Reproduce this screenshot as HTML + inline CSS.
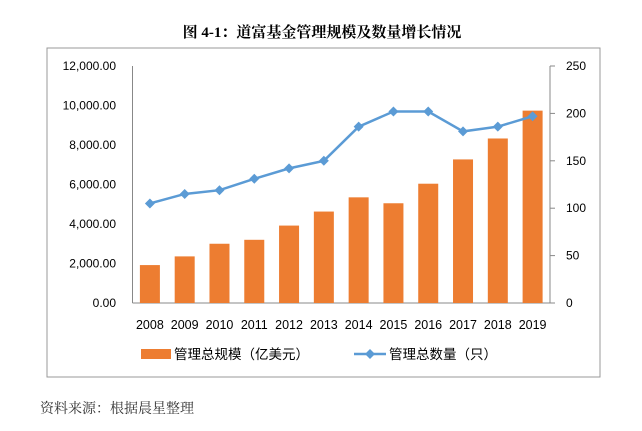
<!DOCTYPE html>
<html><head><meta charset="utf-8"><style>
body{margin:0;background:#fff;width:642px;height:426px;overflow:hidden}
svg text{font-family:"Liberation Sans","Noto Sans CJK SC",sans-serif}
</style></head><body>
<svg width="642" height="426">
<text x="322" y="37" text-anchor="middle" font-size="15" font-weight="bold" style="font-family:'Liberation Serif','Noto Serif CJK SC',serif">图 4-1：道富基金管理规模及数量增长情况</text>
<rect x="47" y="48" width="553" height="329" fill="none" stroke="#999" stroke-width="1"/>
<g id="plot"></g>
<text x="40" y="413" font-size="14" fill="#333" style="font-family:'Liberation Serif','Noto Serif CJK SC',serif">资料来源：根据晨星整理</text>
</svg>
<script>
const years=['2008','2009','2010','2011','2012','2013','2014','2015','2016','2017','2018','2019'];
const aum=[1920,2360,3000,3200,3920,4630,5350,5050,6040,7270,8330,9740];
const counts=[105,115,119,131,142,150,186,202,202,181,186,197];
const leftTicks=[0,2000,4000,6000,8000,10000,12000];
const rightTicks=[0,50,100,150,200,250];
const NS='http://www.w3.org/2000/svg';
const g=document.getElementById('plot');
const X0=132.5,X1=550,YT=66,YB=303;
const cw=(X1-X0)/years.length;
const yL=v=>YB-(v/12000)*(YB-YT);
const yR=v=>YB-(v/250)*(YB-YT);
const xc=i=>X0+cw*(i+0.5);
function mk(t,a){const e=document.createElementNS(NS,t);for(const k in a)e.setAttribute(k,a[k]);g.appendChild(e);return e;}
let ax=mk('line',{x1:X0,y1:YT,x2:X0,y2:YB,stroke:'#888'});


ax=mk('line',{x1:X0,y1:YB,x2:X1,y2:YB,stroke:'#888'});


ax=mk('line',{x1:X1,y1:YT,x2:X1,y2:YB,stroke:'#888'});


leftTicks.forEach(v=>{const t=mk('text',{x:116,y:yL(v)+4,'text-anchor':'end','font-size':12});t.textContent=v.toLocaleString('en-US',{minimumFractionDigits:2});

});
rightTicks.forEach(v=>{mk('line',{x1:X1,y1:yR(v),x2:X1+5,y2:yR(v),stroke:'#888'});const t=mk('text',{x:566,y:yR(v)+4,'font-size':12});t.textContent=v;

});
years.forEach((y,i)=>{const r=mk('rect',{x:xc(i)-10,y:yL(aum[i]),width:20,height:YB-yL(aum[i]),fill:'#ED7D31'});


const t=mk('text',{x:xc(i),y:329,'text-anchor':'middle','font-size':12.5});t.textContent=y;

});
const l=mk('polyline',{points:counts.map((v,i)=>xc(i)+','+yR(v)).join(' '),fill:'none',stroke:'#5B9BD5','stroke-width':2.5});


counts.forEach((v,i)=>{const d=mk('path',{d:`M${xc(i)},${yR(v)-5}l5,5l-5,5l-5,-5z`,fill:'#5B9BD5'});

});
let r=mk('rect',{x:141,y:349,width:30,height:10,fill:'#ED7D31'});


let t=mk('text',{x:174,y:359,'font-size':13.5});t.textContent='管理总规模（亿美元）';


mk('line',{x1:354,y1:354,x2:386,y2:354,stroke:'#5B9BD5','stroke-width':2.5});
r=mk('path',{d:'M370,349l5,5l-5,5l-5,-5z',fill:'#5B9BD5'});


t=mk('text',{x:389,y:359,'font-size':13.5});t.textContent='管理总数量（只）';


</script>
</body></html>
